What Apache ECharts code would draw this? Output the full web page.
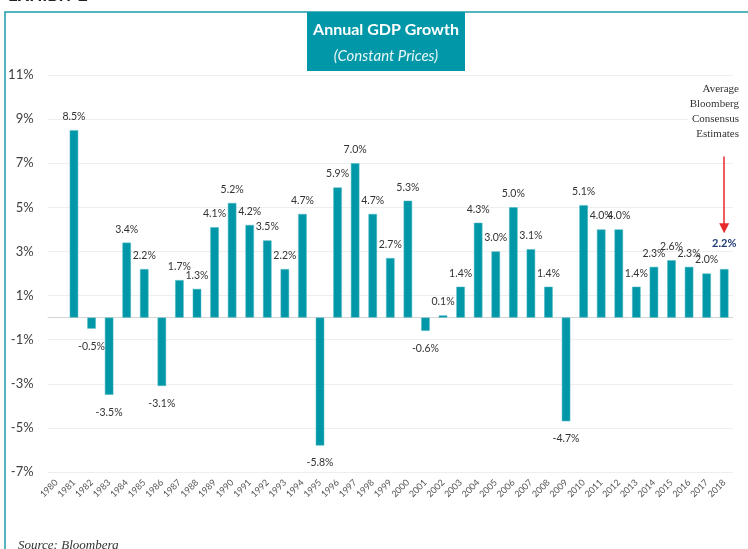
<!DOCTYPE html>
<html>
<head>
<meta charset="utf-8">
<script src="https://cdn.jsdelivr.net/npm/echarts@6/dist/echarts.min.js"></script>
<style>
  html, body { margin: 0; padding: 0; background: #fff; }
  #chart { width: 748px; height: 549px; }
</style>
</head>
<body>
<div id="chart"></div>
<script>
// categories (1980 has no bar in the exhibit)
const years = ['1980', '1981', '1982', '1983', '1984', '1985', '1986', '1987', '1988', '1989',
  '1990', '1991', '1992', '1993', '1994', '1995', '1996', '1997', '1998', '1999',
  '2000', '2001', '2002', '2003', '2004', '2005', '2006', '2007', '2008', '2009',
  '2010', '2011', '2012', '2013', '2014', '2015', '2016', '2017', '2018']
// annual GDP growth, %
const growth = [null, 8.5, -0.5, -3.5, 3.4, 2.2, -3.1, 1.7, 1.3, 4.1,
  5.2, 4.2, 3.5, 2.2, 4.7, -5.8, 5.9, 7.0, 4.7, 2.7,
  5.3, -0.6, 0.1, 1.4, 4.3, 3.0, 5.0, 3.1, 1.4, -4.7,
  5.1, 4.0, 4.0, 1.4, 2.3, 2.6, 2.3, 2.0, 2.2]
// y axis tick labels
const yTicks = [-7, -5, -3, -1, 1, 3, 5, 7, 9, 11]
const estimateYear = '2018'
const estimateNote = ['Average', 'Bloomberg', 'Consensus', 'Estimates']

const teal = '#0098a8'
const font = 'Lato'

const barData = growth.map((v, i) => {
  if (v === null) return null
  const item = {
    value: v,
    label: v >= 0 ? { position: 'top', distance: 8 } : { position: 'bottom', distance: 12 }
  }
  if (years[i] === estimateYear) {
    item.label = { position: 'top', distance: 20, color: '#1f3c78', fontWeight: 'bold', fontSize: 11 }
  }
  return item
})

const chart = echarts.init(document.getElementById('chart'))
chart.setOption({
  animation: false,
  textStyle: { fontFamily: font },
  grid: { left: 47.6, right: 15, top: 75, bottom: 77 },
  xAxis: {
    type: 'category',
    data: years,
    axisLine: { show: false, onZero: false },
    axisTick: { show: false },
    axisLabel: {
      rotate: 45,
      fontSize: 9,
      color: '#555',
      margin: 9,
      interval: 0
    }
  },
  yAxis: {
    type: 'value',
    min: -7,
    max: 11,
    interval: 1,
    splitLine: { show: false },
    axisLine: { show: false },
    axisTick: { show: false },
    axisLabel: {
      fontSize: 13,
      color: '#404040',
      margin: 14,
      formatter: v => (yTicks.indexOf(v) >= 0 ? v + '%' : '')
    }
  },
  series: [
    {
      // gridlines + zero line behind the bars
      type: 'line',
      data: [],
      silent: true,
      markLine: {
        silent: true,
        z: 1,
        symbol: ['none', 'none'],
        label: { show: false },
        lineStyle: { color: '#eeeeee', width: 1, type: 'solid' },
        data: yTicks.map(v => ({ yAxis: v })).concat([
          { yAxis: 0, lineStyle: { color: '#d4d4d4', width: 1, type: 'solid' } }
        ])
      }
    },
    {
      name: 'Annual GDP Growth',
      type: 'bar',
      barWidth: 8.5,
      z: 2,
      itemStyle: { color: teal, borderColor: '#4fb9c4', borderWidth: 0.5 },
      label: {
        show: true,
        fontSize: 10.5,
        color: '#333',
        formatter: p => p.value.toFixed(1) + '%'
      },
      data: barData,
      markLine: {
        silent: true,
        symbol: ['none', 'triangle'],
        symbolSize: 10,
        label: { show: false },
        lineStyle: { color: '#e8292b', width: 1.5, type: 'solid' },
        itemStyle: { color: '#e8292b' },
        data: [[
          { coord: [years.indexOf(estimateYear), 7.3] },
          { coord: [years.indexOf(estimateYear), 4.05] }
        ]]
      }
    }
  ],
  graphic: [
    {
      type: 'rect',
      shape: { x: 5, y: 12, width: 800, height: 600 },
      style: { fill: 'none', stroke: '#1b9aaa', lineWidth: 1.5 },
      z: 0
    },
    {
      type: 'text',
      left: 8,
      top: -13,
      style: { text: 'EXHIBIT 2', fontSize: 17, fontWeight: 'bold', fill: '#222', fontFamily: font }
    },
    {
      type: 'rect',
      shape: { x: 307, y: 12, width: 158, height: 59 },
      style: { fill: teal },
      z: 10
    },
    {
      type: 'text',
      x: 386,
      y: 30,
      z: 11,
      style: {
        text: 'Annual GDP Growth', fontSize: 16, fontWeight: 'bold', fill: '#fff',
        fontFamily: font, align: 'center', verticalAlign: 'middle'
      }
    },
    {
      type: 'text',
      x: 386,
      y: 56,
      z: 11,
      style: {
        text: '(Constant Prices)', fontSize: 15, fontStyle: 'italic', fill: '#e8f6f8',
        fontFamily: font, align: 'center', verticalAlign: 'middle'
      }
    },
    {
      type: 'text',
      x: 739,
      y: 82,
      z: 20,
      style: {
        text: estimateNote.join('\n'), fontSize: 11, lineHeight: 15, fill: '#333',
        fontFamily: 'Liberation Serif', align: 'right', verticalAlign: 'top',
        backgroundColor: '#fff', padding: [0, 0, 0, 2]
      }
    },
    {
      type: 'text',
      x: 18,
      y: 539,
      style: {
        text: 'Source: Bloomberg', fontSize: 13, fontStyle: 'italic', fill: '#333',
        fontFamily: 'Liberation Serif'
      }
    }
  ]
})
</script>
</body>
</html>
